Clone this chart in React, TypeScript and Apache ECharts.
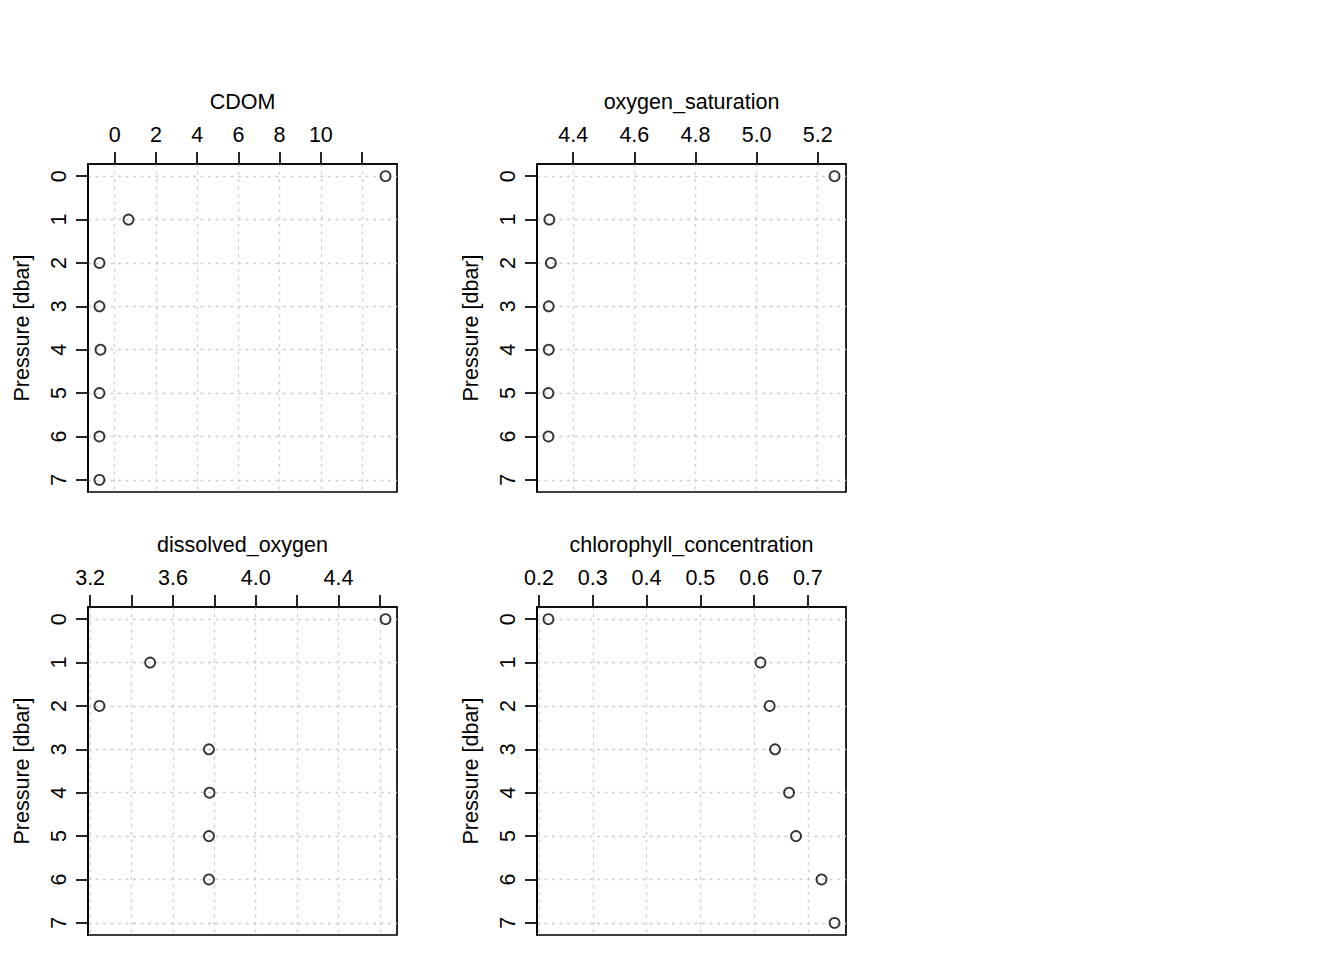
import React, { useEffect, useRef } from "react";
import * as echarts from "echarts";

// ---- data ----
const pressure = [0, 1, 2, 3, 4, 5, 6, 7];
const cdom = [13.14, 0.67, -0.74, -0.74, -0.69, -0.74, -0.74, -0.74];
const oxygenSaturation = [5.255, 4.322, 4.327, 4.32, 4.32, 4.319, 4.319, null];
const dissolvedOxygen = [4.6275, 3.49, 3.245, 3.774, 3.777, 3.774, 3.774, null];
const chlorophyll = [0.2175, 0.612, 0.629, 0.639, 0.665, 0.678, 0.7255, 0.7497];

const panelTitles = ["CDOM", "oxygen_saturation", "dissolved_oxygen", "chlorophyll_concentration"];
const yAxisTitle = "Pressure [dbar]";

const pressureTicks = [0, 1, 2, 3, 4, 5, 6, 7];
const cdomTicks = [0, 2, 4, 6, 8, 10, 12];
const cdomLabels = [0, 2, 4, 6, 8, 10];
const oxySatTicks = [4.4, 4.6, 4.8, 5.0, 5.2];
const oxySatLabels = [4.4, 4.6, 4.8, 5.0, 5.2];
const dissOxyTicks = [3.2, 3.4, 3.6, 3.8, 4.0, 4.2, 4.4, 4.6];
const dissOxyLabels = [3.2, 3.6, 4.0, 4.4];
const chlTicks = [0.2, 0.3, 0.4, 0.5, 0.6, 0.7];
const chlLabels = [0.2, 0.3, 0.4, 0.5, 0.6, 0.7];

const FONT = "'Liberation Sans', Arial, Helvetica, sans-serif";
const FS = 21.5;

function extRange(vals: (number | null)[]) {
  const v = vals.filter((x) => x !== null) as number[];
  const lo = Math.min(...v);
  const hi = Math.max(...v);
  const d = (hi - lo) * 0.04;
  return [lo - d, hi + d];
}

export default function App() {
  const ref = useRef<HTMLDivElement>(null);
  useEffect(() => {
    if (!ref.current) return;
    const chart = echarts.init(ref.current, undefined, { renderer: "svg" });

    const panels = [
      { vals: cdom, ticks: cdomTicks, labels: cdomLabels, dec: 0, left: 88, top: 164 },
      { vals: oxygenSaturation, ticks: oxySatTicks, labels: oxySatLabels, dec: 1, left: 537, top: 164 },
      { vals: dissolvedOxygen, ticks: dissOxyTicks, labels: dissOxyLabels, dec: 1, left: 88, top: 607 },
      { vals: chlorophyll, ticks: chlTicks, labels: chlLabels, dec: 1, left: 537, top: 607 },
    ];
    const W = 309;
    const H = 328;
    const LW = 1.7;

    const grid: any[] = [];
    const xAxis: any[] = [];
    const yAxis: any[] = [];
    const series: any[] = [];

    const splitLine = {
      show: true,
      lineStyle: { color: "#cfcfcf", width: 1.3, type: [3, 4.5] },
    };

    panels.forEach((p, i) => {
      grid.push({
        left: p.left,
        top: p.top,
        width: W,
        height: H,
        show: true,
        borderColor: "#000",
        borderWidth: LW,
        backgroundColor: "transparent",
        containLabel: false,
        outerBoundsMode: "none",
      });
      const [mn, mx] = extRange(p.vals);
      xAxis.push({
        type: "value",
        gridIndex: i,
        position: "top",
        min: mn,
        max: mx,
        name: panelTitles[i],
        nameLocation: "middle",
        nameGap: 51,
        nameTextStyle: { fontFamily: FONT, fontSize: FS, color: "#000" },
        axisLine: { show: true, onZero: false, lineStyle: { color: "#000", width: LW } },
        axisTick: {
          show: true,
          length: 12,
          inside: false,
          customValues: p.ticks,
          lineStyle: { color: "#000", width: LW },
        },
        axisLabel: {
          show: true,
          margin: 18,
          fontFamily: FONT,
          fontSize: FS,
          color: "#000",
          customValues: p.labels,
          formatter: (v: number) => v.toFixed(p.dec),
        },
        splitLine,
      });
      yAxis.push({
        type: "value",
        gridIndex: i,
        position: "left",
        inverse: true,
        min: -0.28,
        max: 7.28,
        name: yAxisTitle,
        nameLocation: "middle",
        nameGap: 55,
        nameTextStyle: { fontFamily: FONT, fontSize: FS, color: "#000" },
        axisLine: { show: true, onZero: false, lineStyle: { color: "#000", width: LW } },
        axisTick: {
          show: true,
          length: 12,
          inside: false,
          customValues: pressureTicks,
          lineStyle: { color: "#000", width: LW },
        },
        axisLabel: {
          show: true,
          rotate: 90,
          margin: 18,
          fontFamily: FONT,
          fontSize: FS,
          color: "#000",
          customValues: pressureTicks,
          formatter: (v: number) => String(Math.round(v)),
        },
        splitLine,
      });
      const data = pressure
        .map((pr, k) => [p.vals[k], pr])
        .filter((d) => d[0] !== null);
      series.push({
        type: "scatter",
        xAxisIndex: i,
        yAxisIndex: i,
        data,
        symbol: "circle",
        symbolSize: 10,
        itemStyle: { color: "transparent", borderColor: "#000", borderWidth: 1.8 },
        silent: true,
      });
    });

    chart.setOption({
      animation: false,
      backgroundColor: "#fff",
      textStyle: { fontFamily: FONT },
      grid,
      xAxis,
      yAxis,
      series,
    });
    return () => chart.dispose();
  }, []);

  return (
    <div
      ref={ref}
      style={{ position: "absolute", left: 0, top: 0, width: 1344, height: 960 }}
    />
  );
}
